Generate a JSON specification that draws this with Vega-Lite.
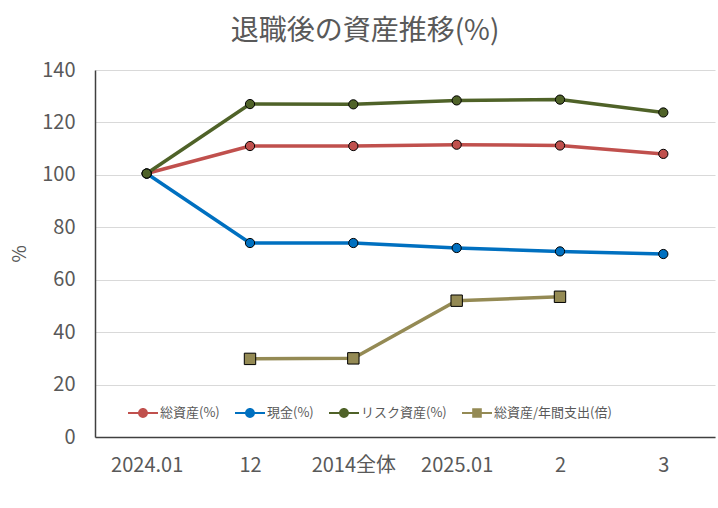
{
  "$schema": "https://vega.github.io/schema/vega-lite/v6.json",
  "width": 620,
  "height": 367,
  "autosize": {"type": "none"},
  "padding": {"left": 95, "top": 70, "right": 3, "bottom": 71},
  "title": {
    "text": "退職後の資産推移(%)",
    "fontSize": 28,
    "font": "Noto Sans CJK JP",
    "fontWeight": "normal",
    "color": "#595959",
    "anchor": "middle",
    "frame": "group",
    "dx": -40,
    "offset": 14
  },
  "config": {
    "view": {"stroke": null},
    "font": "Noto Sans CJK JP",
    "axis": {
      "labelFont": "Noto Sans CJK JP",
      "labelFontSize": 20,
      "labelColor": "#595959",
      "titleFont": "Noto Sans CJK JP",
      "titleFontSize": 19,
      "titleColor": "#595959",
      "titleFontWeight": "normal",
      "domainColor": "#404040",
      "domainWidth": 1.5,
      "ticks": false,
      "gridColor": "#d9d9d9",
      "gridWidth": 1
    },
    "legend": {
      "title": null,
      "orient": "none",
      "legendX": 33,
      "legendY": 328,
      "direction": "horizontal",
      "columns": 4,
      "columnPadding": 15,
      "symbolSize": 900,
      "symbolStrokeWidth": 0,
      "symbolOpacity": 1,
      "labelFont": "Noto Sans CJK JP",
      "labelFontSize": 13,
      "labelColor": "#595959",
      "labelOffset": 2,
      "labelLimit": 300
    }
  },
  "data": {
    "values": [
      {"x": "2024.01", "series": "総資産(%)", "value": 100.5},
      {"x": "12", "series": "総資産(%)", "value": 111.0},
      {"x": "2014全体", "series": "総資産(%)", "value": 111.0},
      {"x": "2025.01", "series": "総資産(%)", "value": 111.5},
      {"x": "2", "series": "総資産(%)", "value": 111.2},
      {"x": "3", "series": "総資産(%)", "value": 108.0},
      {"x": "2024.01", "series": "現金(%)", "value": 100.5},
      {"x": "12", "series": "現金(%)", "value": 74.0},
      {"x": "2014全体", "series": "現金(%)", "value": 74.0},
      {"x": "2025.01", "series": "現金(%)", "value": 72.1},
      {"x": "2", "series": "現金(%)", "value": 70.8},
      {"x": "3", "series": "現金(%)", "value": 69.8},
      {"x": "2024.01", "series": "リスク資産(%)", "value": 100.5},
      {"x": "12", "series": "リスク資産(%)", "value": 127.0},
      {"x": "2014全体", "series": "リスク資産(%)", "value": 126.9},
      {"x": "2025.01", "series": "リスク資産(%)", "value": 128.4},
      {"x": "2", "series": "リスク資産(%)", "value": 128.7},
      {"x": "3", "series": "リスク資産(%)", "value": 123.8},
      {"x": "12", "series": "総資産/年間支出(倍)", "value": 29.8},
      {"x": "2014全体", "series": "総資産/年間支出(倍)", "value": 30.0},
      {"x": "2025.01", "series": "総資産/年間支出(倍)", "value": 52.0},
      {"x": "2", "series": "総資産/年間支出(倍)", "value": 53.5}
    ]
  },
  "encoding": {
    "x": {
      "field": "x",
      "type": "ordinal",
      "sort": ["2024.01", "12", "2014全体", "2025.01", "2", "3"],
      "scale": {"type": "point", "padding": 0.5},
      "axis": {"title": null, "labelAngle": 0, "labelPadding": 18, "grid": false}
    },
    "y": {
      "field": "value",
      "type": "quantitative",
      "scale": {"domain": [0, 140], "nice": false},
      "axis": {"title": "%", "values": [0, 20, 40, 60, 80, 100, 120, 140], "labelPadding": 20, "titlePadding": 12, "grid": true}
    },
    "color": {
      "field": "series",
      "type": "nominal",
      "scale": {
        "domain": ["総資産(%)", "現金(%)", "リスク資産(%)", "総資産/年間支出(倍)"],
        "range": ["#C0504D", "#0070C0", "#4F6228", "#948A54"]
      }
    }
  },
  "layer": [
    {
      "mark": {"type": "line", "strokeWidth": 3.5}
    },
    {
      "transform": [{"filter": "datum.series !== '総資産/年間支出(倍)'"}],
      "mark": {"type": "point", "shape": "circle", "filled": true, "size": 85, "stroke": "#000000", "strokeWidth": 1, "opacity": 1}
    },
    {
      "transform": [{"filter": "datum.series === '総資産/年間支出(倍)'"}],
      "mark": {"type": "point", "shape": "square", "filled": true, "size": 130, "stroke": "#000000", "strokeWidth": 1, "opacity": 1}
    },
    {
      "transform": [{"filter": "datum.value < 0"}],
      "mark": {"type": "point", "filled": true},
      "encoding": {
        "shape": {
          "field": "series",
          "type": "nominal",
          "scale": {
            "domain": ["総資産(%)", "現金(%)", "リスク資産(%)", "総資産/年間支出(倍)"],
            "range": [
              "M-1,-0.06H1V0.06H-1Z M-0.33,0A0.33,0.33 0 1 1 0.33,0A0.33,0.33 0 1 1 -0.33,0Z",
              "M-1,-0.06H1V0.06H-1Z M-0.33,0A0.33,0.33 0 1 1 0.33,0A0.33,0.33 0 1 1 -0.33,0Z",
              "M-1,-0.06H1V0.06H-1Z M-0.33,0A0.33,0.33 0 1 1 0.33,0A0.33,0.33 0 1 1 -0.33,0Z",
              "M-1,-0.06H1V0.06H-1Z M-0.32,-0.32H0.32V0.32H-0.32Z"
            ]
          }
        }
      }
    }
  ]
}
